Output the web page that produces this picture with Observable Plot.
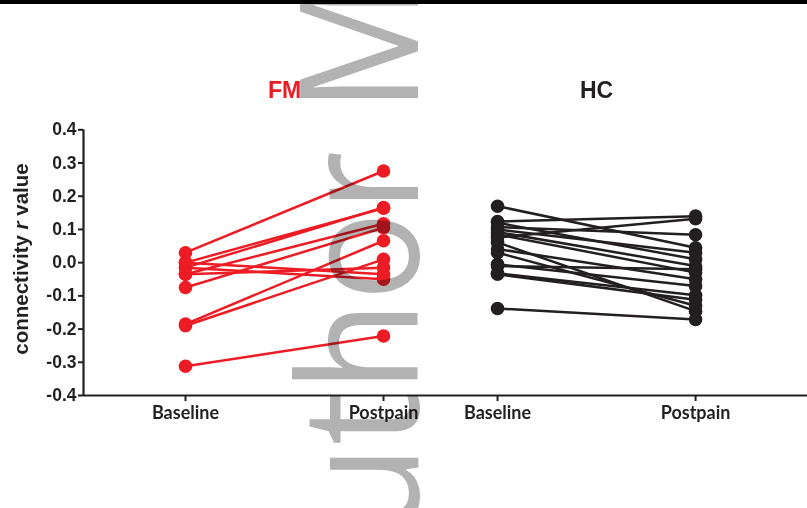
<!DOCTYPE html>
<html>
<head>
<meta charset="utf-8">
<script src="https://cdn.jsdelivr.net/npm/d3@7"></script>
<script src="https://cdn.jsdelivr.net/npm/@observablehq/plot@0.6"></script>
<style>
  html, body { margin: 0; padding: 0; background: #fff; }
  #wrap { position: relative; width: 807px; height: 508px; overflow: hidden; background: #fff; }
  #bar { height: 4px; background: #000; }
  #wm { position: absolute; left: 0; top: 0; pointer-events: none; mix-blend-mode: multiply; }
</style>
</head>
<body>
<div id="wrap">
  <div id="bar"></div>
  <div id="chart"></div>
</div>
<script>
// ---- data ----
const groups = ["FM", "HC"];
const timepoints = ["Baseline", "Postpain"];
const groupColors = ["#ED1C24", "#231F20"];

const fmBaseline = [0.030, 0.000, -0.015, -0.035, -0.075, -0.185, -0.190, -0.015, 0.000, -0.035, -0.312];
const fmPostpain = [0.276, 0.164, 0.166, 0.117, 0.105, 0.066, 0.010, -0.050, -0.035, -0.015, -0.221];

const hcBaseline = [0.170, 0.124, 0.120, 0.107, 0.100, 0.092, 0.085, 0.076, 0.061, 0.041, 0.030, -0.005, -0.010, -0.032, -0.035, -0.138];
const hcPostpain = [0.045, 0.140, 0.010, 0.084, 0.030, -0.010, -0.030, 0.132, -0.146, -0.050, -0.130, -0.070, -0.020, -0.098, -0.112, -0.171];

const yTicks = [-0.4, -0.3, -0.2, -0.1, 0.0, 0.1, 0.2, 0.3, 0.4];

// ---- layout helpers ----
const groupOffset = 1.5758;           // horizontal gap between the two groups, in x units
const xDomain = [-0.515, 3.141];
const xOf = (g, t) => groups.indexOf(g) * groupOffset + timepoints.indexOf(t);

const series = {FM: [fmBaseline, fmPostpain], HC: [hcBaseline, hcPostpain]};
const points = [];
const links = [];
for (const g of groups) {
  const [b, p] = series[g];
  b.forEach((v, i) => {
    points.push({group: g, x: xOf(g, "Baseline"), y: v});
    points.push({group: g, x: xOf(g, "Postpain"), y: p[i]});
    links.push({group: g, x1: xOf(g, "Baseline"), y1: v, x2: xOf(g, "Postpain"), y2: p[i]});
  });
}
const xTicks = [];
for (const g of groups) for (const t of timepoints) xTicks.push({pos: xOf(g, t), label: t});
const xTickLabel = new Map(xTicks.map(d => [d.pos, d.label]));
const titles = groups.map(g => ({group: g, x: (xOf(g, "Baseline") + xOf(g, "Postpain")) / 2}));

const ink = "#231F20";

const chart = Plot.plot({
  width: 807,
  height: 504,
  marginLeft: 83,
  marginRight: 0,
  marginTop: 125.3,
  marginBottom: 113,
  x: {domain: xDomain, axis: null},
  y: {domain: [-0.4, 0.4], axis: null},
  color: {domain: groups, range: groupColors},
  style: {background: "white", color: ink, fontFamily: "Arial, 'Liberation Sans', sans-serif"},
  marks: [
    Plot.ruleY([-0.4], {stroke: ink, strokeWidth: 2.2}),
    Plot.ruleX([xDomain[0]], {y1: -0.4, y2: 0.4, stroke: ink, strokeWidth: 2.2}),
    Plot.axisY(yTicks, {
      tickFormat: d => d.toFixed(1),
      tickSize: 5, tickPadding: 2, strokeWidth: 2, stroke: ink,
      fontSize: 17.5, fontWeight: "bold", fill: ink, label: null, letterSpacing: "0.8px"
    }),
    Plot.axisX(xTicks.map(d => d.pos), {
      tickFormat: d => xTickLabel.get(d),
      tickSize: 6, tickPadding: 5, strokeWidth: 2, stroke: ink,
      fontSize: 18, fontWeight: "bold", fontFamily: "Lato, 'Open Sans', sans-serif", fill: ink, label: null
    }),
    Plot.link(links, {x1: "x1", y1: "y1", x2: "x2", y2: "y2", stroke: "group", strokeWidth: 2.5}),
    Plot.dot(points, {x: "x", y: "y", r: 6.8, fill: "group", stroke: "none"}),
    Plot.text(titles, {x: "x", frameAnchor: "top", lineAnchor: "middle", dy: -39, text: "group", fill: "group",
      fontSize: 23, fontWeight: "bold", letterSpacing: "1px"})
  ]
});
document.getElementById("chart").appendChild(chart);

// y-axis title with italic r
const svg = d3.select(chart);
const yl = svg.append("text")
  .attr("transform", "translate(28,255) rotate(-90)")
  .attr("text-anchor", "middle")
  .attr("font-family", "Arial, 'Liberation Sans', sans-serif")
  .attr("font-weight", "bold")
  .attr("font-size", 20.5)
  .attr("fill", ink);
yl.append("tspan").text("connectivity ");
yl.append("tspan").attr("font-style", "italic").text("r");
yl.append("tspan").text(" value");

// watermark overlay
const wm = d3.select("#wrap").append("svg")
  .attr("id", "wm").attr("width", 807).attr("height", 508);
wm.append("text")
  .attr("transform", "translate(418,630) rotate(-90) scale(0.9,1)")
  .attr("font-family", "'Open Sans', sans-serif")
  .attr("font-size", 165)
  .attr("fill", "#B2B2B2")
  .text("Author Manuscript");
</script>
</body>
</html>
